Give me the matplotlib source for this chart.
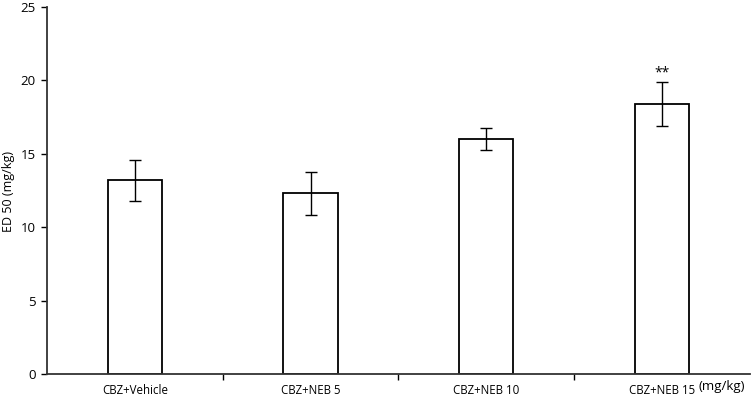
import matplotlib
matplotlib.use("Agg")
import matplotlib.pyplot as plt
import numpy as np

categories = ["CBZ+Vehicle", "CBZ+NEB 5", "CBZ+NEB 10", "CBZ+NEB 15"]
values = [13.2, 12.3, 16.0, 18.4]
errors = [1.4, 1.45, 0.78, 1.5]
annotations = ["", "", "", "**"]

plt.rcParams['font.family'] = ['Open Sans', 'DejaVu Sans']

fig = plt.figure(figsize=(7.52, 3.98), dpi=100)
ax = fig.add_axes([0.0625, 0.0603, 0.9345, 0.9227])

x = np.arange(len(categories))
ax.bar(x, values, width=0.31, color="white", edgecolor="black", linewidth=1.3, zorder=2)
ax.errorbar(x, values, yerr=errors, fmt="none", ecolor="black", elinewidth=1.0,
            capsize=4, capthick=1.0, zorder=3)
for xi, v, e, a in zip(x, values, errors, annotations):
    if a:
        ax.text(xi, v + e + 0.05, a, ha="center", va="bottom", fontsize=10)

ax.set_xlim(-0.5, len(categories) - 0.5)
ax.set_ylim(0, 25)
ax.set_yticks([0, 5, 10, 15, 20, 25])
ax.set_xticks(x)
ax.set_xticklabels(categories, fontsize=8.3)
ax.set_xticks(np.arange(0.5, len(categories) - 1, 1.0), minor=True)
ax.tick_params(axis="x", which="major", length=0, pad=7)
ax.tick_params(axis="x", which="minor", length=4, width=1, direction="out")
ax.tick_params(axis="y", length=4, width=1, labelsize=9.5, direction="out", pad=4)

fig.text(0.011, 0.52, "ED 50 (mg/kg)", rotation=90, ha="center", va="center", fontsize=9)

for s in ["top", "right"]:
    ax.spines[s].set_visible(False)
for s in ["left", "bottom"]:
    ax.spines[s].set_linewidth(1.3)
    ax.spines[s].set_color("#333333")

fig.text(0.991, 0.03, "(mg/kg)", ha="right", va="center", fontsize=9.5)

fig.savefig("out.png", dpi=100)
